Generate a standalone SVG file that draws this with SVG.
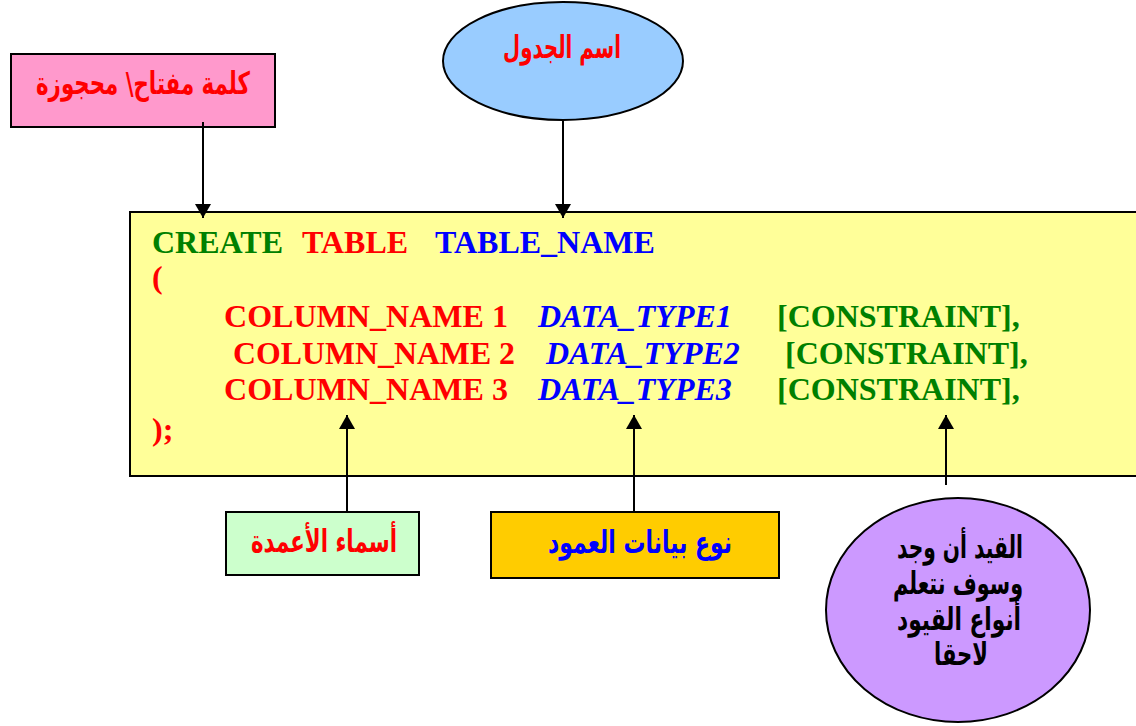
<svg xmlns="http://www.w3.org/2000/svg" width="1136" height="726" viewBox="0 0 1136 726">
<defs>
<style>
.box{stroke:#000;stroke-width:2}
.code{font-family:"Liberation Serif","Times New Roman",serif;font-weight:bold;font-size:32px}
.it{font-style:italic}
.g{fill:#008000}.r{fill:#FF0000}.b{fill:#0000FF}
.ar{font-family:"DejaVu Sans","Noto Sans",sans-serif;font-weight:bold;direction:rtl;text-anchor:middle;font-size:31px}
.conn{stroke:#000;stroke-width:2;fill:none}
</style>
<marker id="ah" viewBox="0 0 14 16" refX="14" refY="8" markerWidth="14" markerHeight="16" markerUnits="userSpaceOnUse" orient="auto">
<path d="M0,0 L14,8 L0,16 z" fill="#000"/>
</marker>
</defs>
<rect width="1136" height="726" fill="#fff"/>
<g id="code-block">
<rect class="box" x="130" y="212" width="1010" height="264" fill="#FFFF99"/>
<text class="code"><tspan class="g" x="152" y="253">CREATE</tspan><tspan class="r" x="302" y="253">TABLE</tspan><tspan class="b" x="435" y="253">TABLE_NAME</tspan></text>
<text class="code r" x="152" y="288">(</text>
<text class="code"><tspan class="r" x="224" y="327" textLength="284" lengthAdjust="spacingAndGlyphs">COLUMN_NAME 1</tspan><tspan class="b it" x="538" y="327">DATA_TYPE1</tspan><tspan class="g" x="777" y="327">[CONSTRAINT],</tspan></text>
<text class="code"><tspan class="r" x="233" y="364" textLength="282" lengthAdjust="spacingAndGlyphs">COLUMN_NAME 2</tspan><tspan class="b it" x="546" y="364">DATA_TYPE2</tspan><tspan class="g" x="785" y="364">[CONSTRAINT],</tspan></text>
<text class="code"><tspan class="r" x="224" y="400" textLength="284" lengthAdjust="spacingAndGlyphs">COLUMN_NAME 3</tspan><tspan class="b it" x="538" y="400">DATA_TYPE3</tspan><tspan class="g" x="777" y="400">[CONSTRAINT],</tspan></text>
<text class="code r" x="152" y="440">);</text>
</g>
<g id="keyword">
<rect class="box" x="11" y="54" width="264" height="73" fill="#FF99CC"/>
<text class="ar r" x="143" y="94" textLength="214" lengthAdjust="spacingAndGlyphs">كلمة مفتاح\ محجوزة</text>
</g>
<g id="table-name">
<ellipse class="box" cx="563" cy="61" rx="120" ry="59" fill="#99CCFF"/>
<text class="ar r" x="562" y="58" textLength="118" lengthAdjust="spacingAndGlyphs">اسم الجدول</text>
</g>
<g id="column-names">
<rect class="box" x="226" y="512" width="193" height="63" fill="#CCFFCC"/>
<text class="ar r" x="324" y="552" font-size="28" textLength="146" lengthAdjust="spacingAndGlyphs">أسماء الأعمدة</text>
</g>
<g id="data-type">
<rect class="box" x="491" y="512" width="288" height="66" fill="#FFCC00"/>
<text class="ar b" x="640" y="553" font-size="28" textLength="184" lengthAdjust="spacingAndGlyphs">نوع بيانات العمود</text>
</g>
<g id="constraint">
<ellipse class="box" cx="958" cy="610" rx="132" ry="112" fill="#CC99FF"/>
<text class="ar" fill="#000" x="960" y="558" textLength="126" lengthAdjust="spacingAndGlyphs">القيد أن وجد</text>
<text class="ar" fill="#000" x="958" y="594" textLength="130" lengthAdjust="spacingAndGlyphs">وسوف نتعلم</text>
<text class="ar" fill="#000" x="959" y="630" textLength="124" lengthAdjust="spacingAndGlyphs">أنواع القيود</text>
<text class="ar" fill="#000" x="961" y="665" textLength="54" lengthAdjust="spacingAndGlyphs">لاحقا</text>
</g>
<g id="connectors">
<line class="conn" x1="203" y1="122" x2="203" y2="218" marker-end="url(#ah)"/>
<line class="conn" x1="563" y1="120" x2="563" y2="218" marker-end="url(#ah)"/>
<line class="conn" x1="347" y1="512" x2="347" y2="415" marker-end="url(#ah)"/>
<line class="conn" x1="634" y1="512" x2="634" y2="415" marker-end="url(#ah)"/>
<line class="conn" x1="946" y1="485" x2="946" y2="415" marker-end="url(#ah)"/>
</g>
</svg>
